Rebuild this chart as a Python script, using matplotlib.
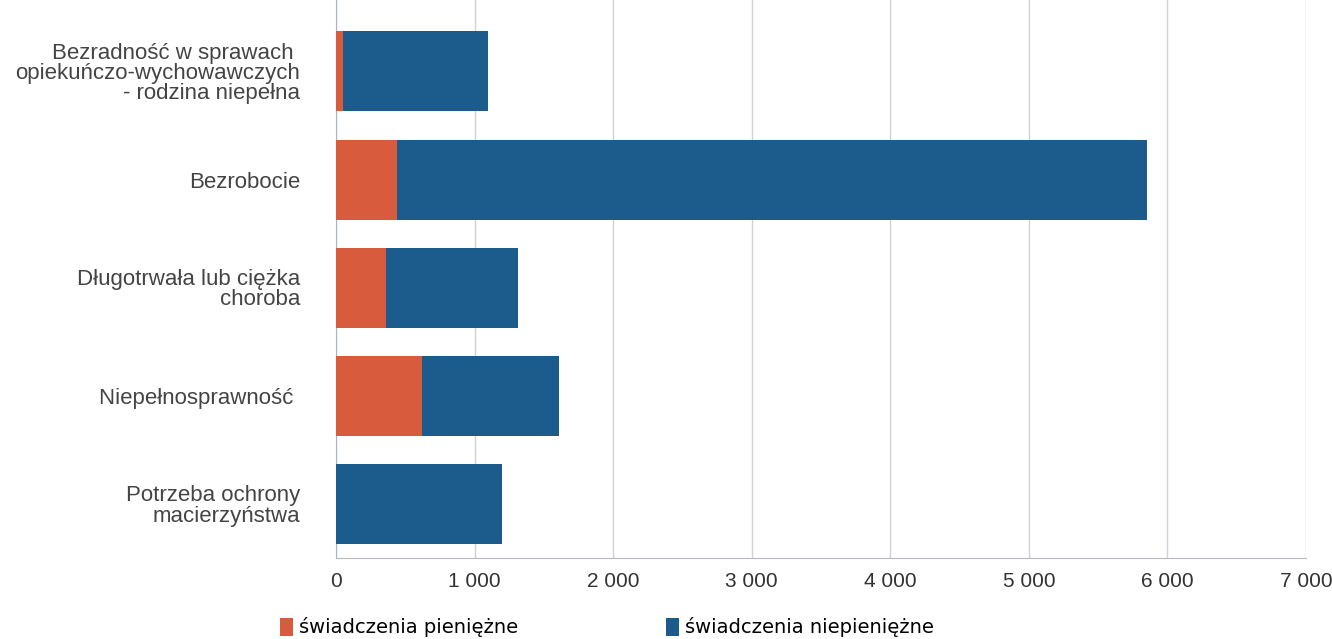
import matplotlib
matplotlib.use('Agg')
import matplotlib.pyplot as plt
import numpy as np

categories = ['Bezradność w sprawach \nopiekuńczo-wychowawczych\n- rodzina niepełna',
              'Bezrobocie',
              'Długotrwała lub ciężka\nchoroba',
              'Niepełnosprawność ',
              'Potrzeba ochrony\nmacierzyństwa']
pieniezne = [50, 440, 360, 620, 0]
niepieniezne = [1050, 5410, 950, 990, 1200]
xticks = [0, 1000, 2000, 3000, 4000, 5000, 6000, 7000]
xtick_labels = ['0', '1 000', '2 000', '3 000', '4 000', '5 000', '6 000', '7 000']

red = '#d95b3e'
blue = '#1b5c8c'


def main():
    fig = plt.figure(figsize=(13.32, 6.39), dpi=100)
    ax = fig.add_axes([336 / 1332, 1 - 558 / 639, (1306 - 336) / 1332, 558 / 639])

    y = np.arange(len(categories))
    ax.barh(y, pieniezne, height=0.74, color=red, label='świadczenia pieniężne', zorder=3)
    ax.barh(y, niepieniezne, left=pieniezne, height=0.74, color=blue,
            label='świadczenia niepieniężne', zorder=3)

    ax.set_xlim(0, 7000)
    ax.set_ylim(4.5, -0.66)
    ax.set_xticks(xticks)
    ax.set_xticklabels(xtick_labels, fontsize=15, color='#333333', family='Liberation Sans')
    ax.set_yticks(y)
    ax.set_yticklabels(categories, fontsize=16, color='#444444', family='Liberation Sans',
                       ha='right', linespacing=0.95)
    ax.tick_params(axis='y', length=0, pad=26)
    ax.tick_params(axis='x', length=0, pad=10)

    ax.grid(axis='x', color='#d0d0d8', linewidth=1, zorder=0)
    for s in ['top', 'right']:
        ax.spines[s].set_visible(False)
    ax.spines['left'].set_color('#a8b4cc')
    ax.spines['bottom'].set_color('#b8b8c0')

    fig.legend(loc='lower left', bbox_to_anchor=(262 / 1332, -0.025), ncol=2, frameon=False,
               fontsize=14, handlelength=0.7, handleheight=1.0, handletextpad=0.3,
               columnspacing=7.6)

    plt.savefig('out.png', dpi=100)


if __name__ == '__main__':
    main()
